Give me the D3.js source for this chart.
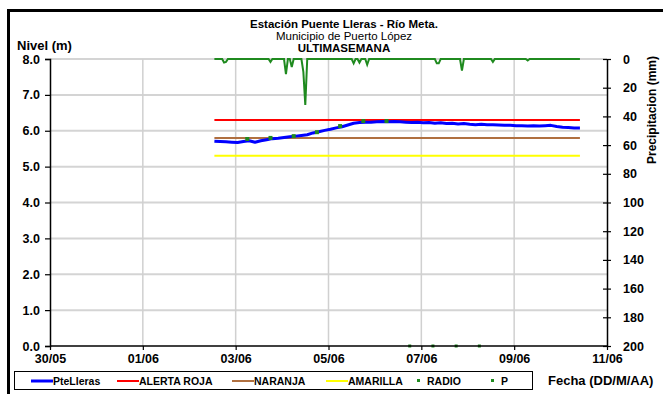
<!DOCTYPE html>
<html><head><meta charset="utf-8">
<script src="https://cdn.jsdelivr.net/npm/d3@7"></script>
<style>
body{margin:0;background:#fff;}
svg{display:block;font-family:"Liberation Sans",Arial,sans-serif;}
</style></head>
<body><svg id="c" width="663" height="394"></svg>
<script>
// ---- Data ----
const xTickLabels = ["30/05","01/06","03/06","05/06","07/06","09/06","11/06"];
const levelTicks = [0,1,2,3,4,5,6,7,8];
const precipTicks = [0,20,40,60,80,100,120,140,160,180,200];

// PteLleras level (m), 3-hourly from 2024-06-02 13:00 UTC
const levelStart = "2024-06-02T13:00";
const levelValues = [5.71,5.70,5.69,5.68,5.67,5.70,5.72,5.68,5.72,5.75,5.78,5.79,5.81,5.83,5.85,5.87,
  5.89,5.94,5.97,6.01,6.04,6.08,6.11,6.16,6.21,6.23,6.24,6.24,6.25,6.26,6.25,6.26,
  6.25,6.24,6.23,6.24,6.22,6.23,6.21,6.22,6.20,6.21,6.19,6.20,6.18,6.17,6.18,6.17,
  6.17,6.16,6.15,6.15,6.14,6.14,6.13,6.14,6.13,6.14,6.15,6.12,6.10,6.09,6.08,6.08];

// Alert thresholds (m)
const thresholdNames = ["ALERTA ROJA","NARANJA","AMARILLA"];
const thresholdValues = [6.3,5.8,5.3];
const thresholdColors = ["#ff0000","#b07040","#ffff00"];
const thresholdSpan = ["2024-06-02T13:00","2024-06-10T10:00"];

// RADIO readings (m)
const radioTimes = ["2024-06-03T06:00","2024-06-03T18:00","2024-06-04T06:00","2024-06-04T18:00",
  "2024-06-05T06:00","2024-06-05T18:00","2024-06-06T06:00"];
const radioValues = [5.77,5.80,5.85,5.96,6.13,6.27,6.27];

// P readings
const pTimes = ["2024-06-06T18:00","2024-06-07T06:00","2024-06-07T18:00","2024-06-08T06:00"];
const pValues = [0,0,0,0];

// Precipitation (mm)
const precipTimes = ["2024-06-02T13:00","2024-06-02T17:00","2024-06-02T18:00","2024-06-02T19:00","2024-06-02T20:00",
  "2024-06-03T17:00","2024-06-03T18:00","2024-06-03T19:00",
  "2024-06-04T01:00","2024-06-04T02:00","2024-06-04T03:00","2024-06-04T04:00","2024-06-04T05:00","2024-06-04T06:00",
  "2024-06-04T10:00","2024-06-04T11:00","2024-06-04T12:00","2024-06-04T13:00",
  "2024-06-05T12:00","2024-06-05T13:00","2024-06-05T14:00","2024-06-05T15:00","2024-06-05T16:00","2024-06-05T17:00",
  "2024-06-05T19:00","2024-06-05T20:00","2024-06-05T21:00",
  "2024-06-07T07:00","2024-06-07T08:00","2024-06-07T09:00","2024-06-07T10:00",
  "2024-06-07T20:00","2024-06-07T21:00","2024-06-07T22:00",
  "2024-06-08T12:00","2024-06-08T13:00","2024-06-08T14:00",
  "2024-06-09T06:00","2024-06-09T07:00","2024-06-09T08:00",
  "2024-06-10T10:00"];
const precipValues = [0,0,2.5,2,0,
  0,2,0,
  0,10.5,0,0,5.5,0,
  0,9,32,0,
  0,3,0,0,2.5,0,
  0,4,0,
  0,3,3,0,
  0,8,0,
  0,2,0,
  0,1,0,
  0];

// ---- Drawing ----
const svg = d3.select("#c");
const parse = d3.utcParse("%Y-%m-%dT%H:%M");
const L = 50, R = 607, T = 59, B = 346;

const x = d3.scaleUtc().domain([Date.UTC(2024,4,30), Date.UTC(2024,5,11)]).range([L,R]);
const yL = d3.scaleLinear().domain([0,8]).range([B,T]);
const yR = d3.scaleLinear().domain([0,200]).range([T,B]);
const xTicks = d3.utcDay.range(new Date(Date.UTC(2024,4,30)), new Date(Date.UTC(2024,5,11,1)), 2);

// outer frame
svg.append("rect").attr("x",8.5).attr("y",10.5).attr("width",680).attr("height",400)
  .attr("fill","none").attr("stroke","#000").attr("stroke-width",3);

// gridlines
svg.append("g").selectAll("line").data(levelTicks.slice(1)).join("line")
  .attr("x1",L).attr("x2",R).attr("y1",d=>yL(d)).attr("y2",d=>yL(d))
  .attr("stroke","#d4d4d4").attr("stroke-width",2);
svg.append("g").selectAll("line").data(xTicks.slice(1,-1)).join("line")
  .attr("x1",d=>x(d)).attr("x2",d=>x(d)).attr("y1",T).attr("y2",B)
  .attr("stroke","#d0d0d0").attr("stroke-width",1.5);

// thresholds
thresholdValues.forEach((v,i)=>{
  svg.append("line").attr("x1",x(parse(thresholdSpan[0]))).attr("x2",x(parse(thresholdSpan[1])))
    .attr("y1",yL(v)).attr("y2",yL(v)).attr("stroke",thresholdColors[i]).attr("stroke-width",2);
});

// precipitation line
const precip = precipTimes.map((t,i)=>({t:parse(t), v:precipValues[i]}));
svg.append("path").datum(precip)
  .attr("d", d3.line().x(d=>x(d.t)).y(d=>yR(d.v)))
  .attr("fill","none").attr("stroke","#1f8a1f").attr("stroke-width",2);

// level line
const t0 = parse(levelStart);
const level = levelValues.map((v,i)=>({t:d3.utcHour.offset(t0, 3*i), v}));
svg.append("path").datum(level)
  .attr("d", d3.line().x(d=>x(d.t)).y(d=>yL(d.v)))
  .attr("fill","none").attr("stroke","#0000ff").attr("stroke-width",3).attr("stroke-linejoin","round");

// radio dots
svg.append("g").selectAll("rect").data(radioTimes.map((t,i)=>({t:parse(t),v:radioValues[i]}))).join("rect")
  .attr("x",d=>x(d.t)-2).attr("y",d=>yL(d.v)-2).attr("width",4).attr("height",4).attr("fill","#1f8a1f");
// P dots
svg.append("g").selectAll("rect").data(pTimes.map((t,i)=>({t:parse(t),v:pValues[i]}))).join("rect")
  .attr("x",d=>x(d.t)-1.5).attr("y",d=>yL(d.v)-1.5).attr("width",3).attr("height",3).attr("fill","#1f8a1f");

// axes
const gl = svg.append("g").attr("transform",`translate(${L},0)`)
  .call(d3.axisLeft(yL).tickValues(levelTicks).tickFormat(d3.format(".1f")).tickSize(5).tickPadding(5));
const gr = svg.append("g").attr("transform",`translate(${R},0)`)
  .call(d3.axisRight(yR).tickValues(precipTicks).tickSizeInner(4).tickSizeOuter(0).tickPadding(12));
gr.selectAll(".tick line").attr("x1",-4);
const gb = svg.append("g").attr("transform",`translate(0,${B})`)
  .call(d3.axisBottom(x).tickValues(xTicks).tickFormat((d,i)=>xTickLabels[i]).tickSize(4).tickPadding(4));
[gl,gr,gb].forEach(g=>{
  g.select(".domain").attr("stroke","#000").attr("stroke-width",1.5);
  g.selectAll(".tick line").attr("stroke","#000").attr("stroke-width",1.2);
  g.selectAll("text").attr("font-family","Liberation Sans, Arial").attr("font-size",12.5).attr("font-weight","bold").attr("fill","#000");
});
gb.select(".domain").attr("d",`M${L},0H${R}`);

// titles
const title = svg.append("g").attr("text-anchor","middle").attr("fill","#000");
title.append("text").attr("x",344).attr("y",28).attr("font-size",11.5).attr("font-weight","bold").text("Estación Puente Lleras - Río Meta.");
title.append("text").attr("x",344).attr("y",40).attr("font-size",11.5).text("Municipio de Puerto López");
title.append("text").attr("x",344).attr("y",52).attr("font-size",11.5).attr("font-weight","bold").text("ULTIMASEMANA");
svg.append("text").attr("x",17).attr("y",50).attr("font-size",13).attr("font-weight","bold").text("Nivel (m)");
svg.append("text").attr("transform","translate(656,110) rotate(-90)").attr("text-anchor","middle")
  .attr("font-size",12).attr("font-weight","bold").text("Precipitacion (mm)");
svg.append("text").attr("x",548).attr("y",385).attr("font-size",13).attr("font-weight","bold").text("Fecha (DD/M/AA)");

// legend
const legendNames = ["PteLleras"].concat(thresholdNames, ["RADIO","P"]);
const legendColors = ["#0000ff"].concat(thresholdColors, ["#1f8a1f","#1f8a1f"]);
const legendX = [31,117,232,326,414,488];
svg.append("rect").attr("x",14.5).attr("y",371.5).attr("width",518).attr("height",18)
  .attr("fill","#fff").attr("stroke","#000").attr("stroke-width",1);
legendNames.forEach((n,i)=>{
  const lx = legendX[i], ly = 381;
  if(i<4){
    svg.append("line").attr("x1",lx).attr("x2",lx+22).attr("y1",ly).attr("y2",ly)
      .attr("stroke",legendColors[i]).attr("stroke-width",i===0?3:2);
    svg.append("text").attr("x",lx+22).attr("y",ly+4).attr("font-size",10.5).attr("font-weight","bold").text(n);
  } else {
    svg.append("rect").attr("x",lx+3).attr("y",ly-2).attr("width",3).attr("height",3).attr("fill",legendColors[i]);
    svg.append("text").attr("x",lx+13).attr("y",ly+4).attr("font-size",10.5).attr("font-weight","bold").text(n);
  }
});
</script></body></html>
